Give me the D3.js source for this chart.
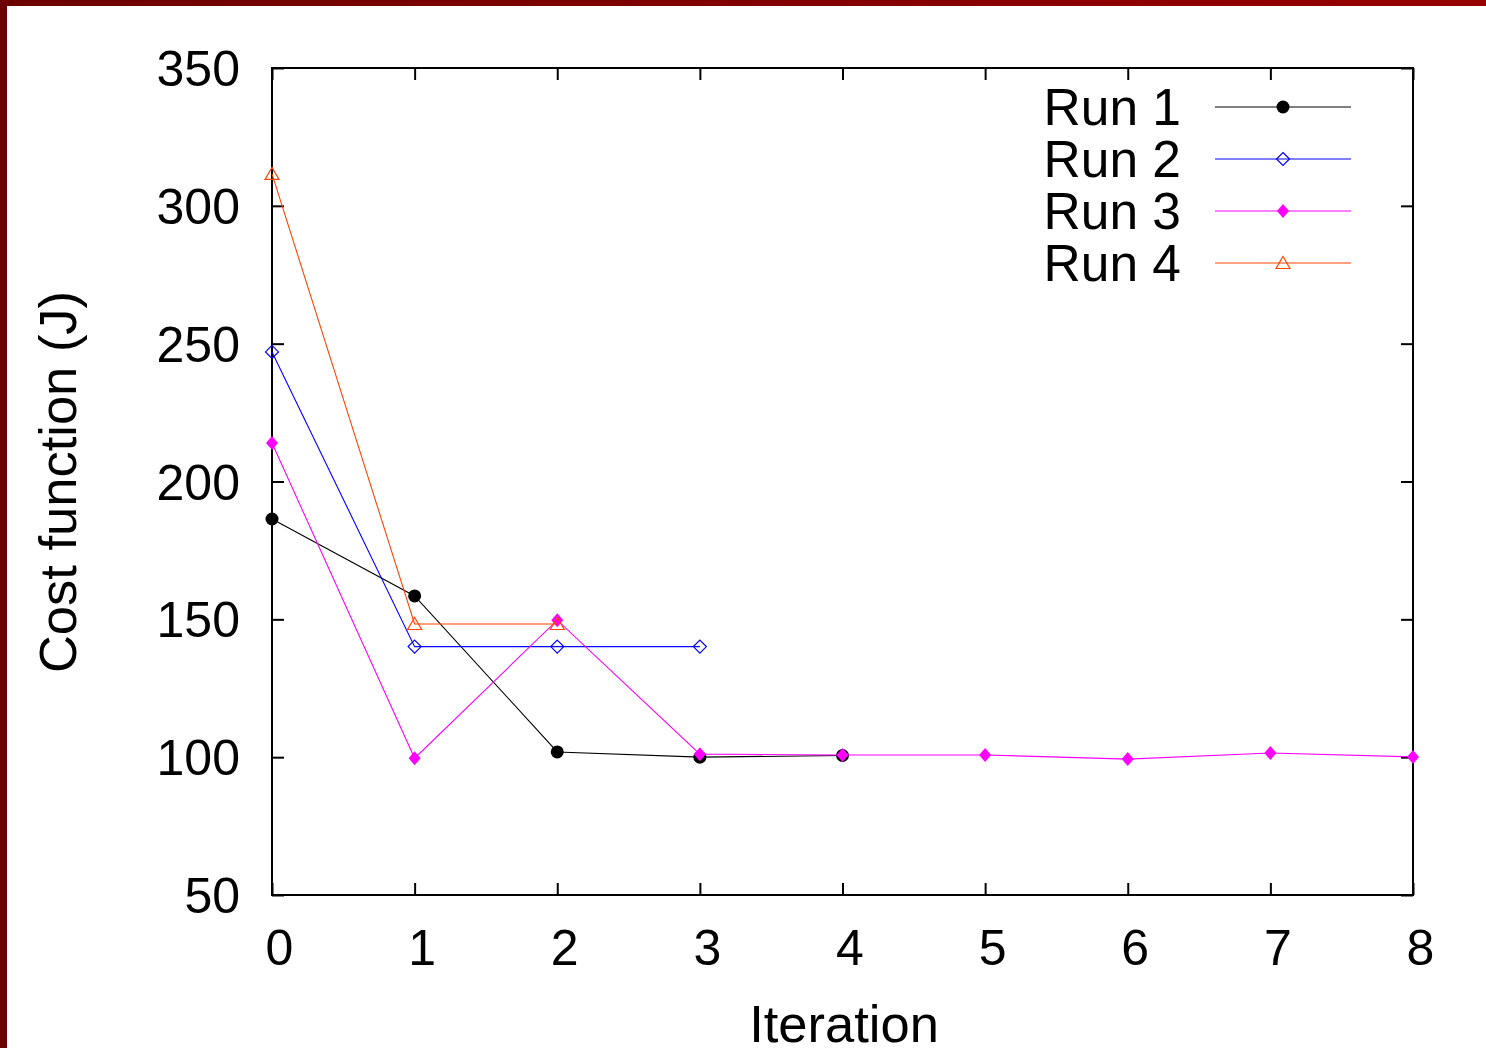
<!DOCTYPE html>
<html><head><meta charset="utf-8">
<script src="https://cdn.jsdelivr.net/npm/d3@7"></script>
<style>html,body{margin:0;padding:0;background:#fff;}svg{display:block;}</style>
</head><body>
<svg id="c" width="1486" height="1048"></svg>
<script>
const iterations = [0,1,2,3,4,5,6,7,8];
const xTicks = [0,1,2,3,4,5,6,7,8];
const yTicks = [50,100,150,200,250,300,350];
const run1 = [186.4, 158.5, 101.9, 100.0, 100.6];
const run2 = [247.0, 140.1, 140.1, 140.1];
const run3 = [214.0, 99.6, 149.7, 101.1, 100.8, 100.8, 99.3, 101.5, 100.1];
const run4 = [311.6, 148.3, 148.3];
const seriesNames = ["Run 1","Run 2","Run 3","Run 4"];
const seriesColors = ["#000000","#0000ff","#ff00ff","#ff4500"];
const seriesMarkers = ["circle","diamondOpen","diamondFilled","triangleOpen"];
const seriesValues = [run1, run2, run3, run4];

const svg = d3.select("#c");
const font = "'Liberation Sans', Arial, sans-serif";
const L = 272, R = 1413, T = 68, B = 895;
const x = d3.scaleLinear().domain([0,8]).range([L,R]);
const y = d3.scaleLinear().domain([50,350]).range([B,T]);

// border
const defs = svg.append("defs");
const g = defs.append("linearGradient").attr("id","bg").attr("x1","0").attr("x2","1");
g.append("stop").attr("offset","0").attr("stop-color","#6c0000");
g.append("stop").attr("offset","1").attr("stop-color","#960000");
svg.append("rect").attr("x",0).attr("y",0).attr("width",1486).attr("height",6).attr("fill","url(#bg)");
svg.append("rect").attr("x",0).attr("y",0).attr("width",7).attr("height",1048).attr("fill","#6c0000");

const tl = 12;
const xb = svg.append("g").attr("transform",`translate(0,${B})`)
  .call(d3.axisBottom(x).tickValues(xTicks).tickSize(-tl).tickFormat(d3.format("d")).tickPadding(0));
const xt = svg.append("g").attr("transform",`translate(0,${T})`)
  .call(d3.axisTop(x).tickValues(xTicks).tickSize(-tl).tickFormat(""));
const yl = svg.append("g").attr("transform",`translate(${L},0)`)
  .call(d3.axisLeft(y).tickValues(yTicks).tickSize(-tl).tickFormat(d3.format("d")));
const yr = svg.append("g").attr("transform",`translate(${R},0)`)
  .call(d3.axisRight(y).tickValues(yTicks).tickSize(-tl).tickFormat(""));
[xb,xt,yl,yr].forEach(a=>{
  a.select(".domain").remove();
  a.selectAll(".tick line").attr("stroke","#000").attr("stroke-width",2);
});
xb.selectAll(".tick text").attr("font-family",font).attr("font-size",50).attr("fill","#000")
  .attr("dy",null).attr("y",70).attr("x",7);
yl.selectAll(".tick text").attr("font-family",font).attr("font-size",50).attr("fill","#000")
  .attr("x",-32).attr("dy","0.35em");

svg.append("rect").attr("x",L).attr("y",T).attr("width",R-L).attr("height",B-T)
  .attr("fill","none").attr("stroke","#000").attr("stroke-width",2);

function marker(sel, type, color, px, py){
  if(type==="circle"){
    sel.append("circle").attr("cx",px).attr("cy",py).attr("r",6.5).attr("fill",color);
  } else if(type==="diamondOpen"){
    sel.append("path").attr("d",`M${px},${py-6.5}L${px+6.5},${py}L${px},${py+6.5}L${px-6.5},${py}Z`)
      .attr("fill","none").attr("stroke",color).attr("stroke-width",1.2);
  } else if(type==="diamondFilled"){
    sel.append("path").attr("d",`M${px},${py-7}L${px+6},${py}L${px},${py+7}L${px-6},${py}Z`)
      .attr("fill",color);
  } else {
    sel.append("path").attr("d",`M${px},${py-6.5}L${px+7},${py+5.5}L${px-7},${py+5.5}Z`)
      .attr("fill","none").attr("stroke",color).attr("stroke-width",1.2);
  }
}

const line = d3.line().x((d,i)=>x(iterations[i])).y(d=>y(d));
seriesValues.forEach((vals,k)=>{
  const gg = svg.append("g");
  gg.append("path").datum(vals).attr("d",line).attr("fill","none")
    .attr("stroke",seriesColors[k]).attr("stroke-width",1.1);
  vals.forEach((v,i)=>marker(gg, seriesMarkers[k], seriesColors[k], x(iterations[i]), y(v)));
});

seriesNames.forEach((n,k)=>{
  const ly = 107 + k*52;
  svg.append("text").attr("x",1181).attr("y",ly).attr("dy","0.35em").attr("text-anchor","end")
    .attr("font-family",font).attr("font-size",51.5).attr("fill","#000").text(n);
  svg.append("line").attr("x1",1215).attr("x2",1351).attr("y1",ly).attr("y2",ly)
    .attr("stroke",seriesColors[k]).attr("stroke-width",1.1);
  marker(svg, seriesMarkers[k], seriesColors[k], 1283, ly);
});

svg.append("text").attr("x",844).attr("y",1042).attr("text-anchor","middle")
  .attr("font-family",font).attr("font-size",52.5).attr("fill","#000").text("Iteration");
svg.append("text").attr("transform","translate(76,482) rotate(-90)").attr("text-anchor","middle")
  .attr("font-family",font).attr("font-size",52.5).attr("fill","#000").text("Cost function (J)");
</script>
</body></html>
